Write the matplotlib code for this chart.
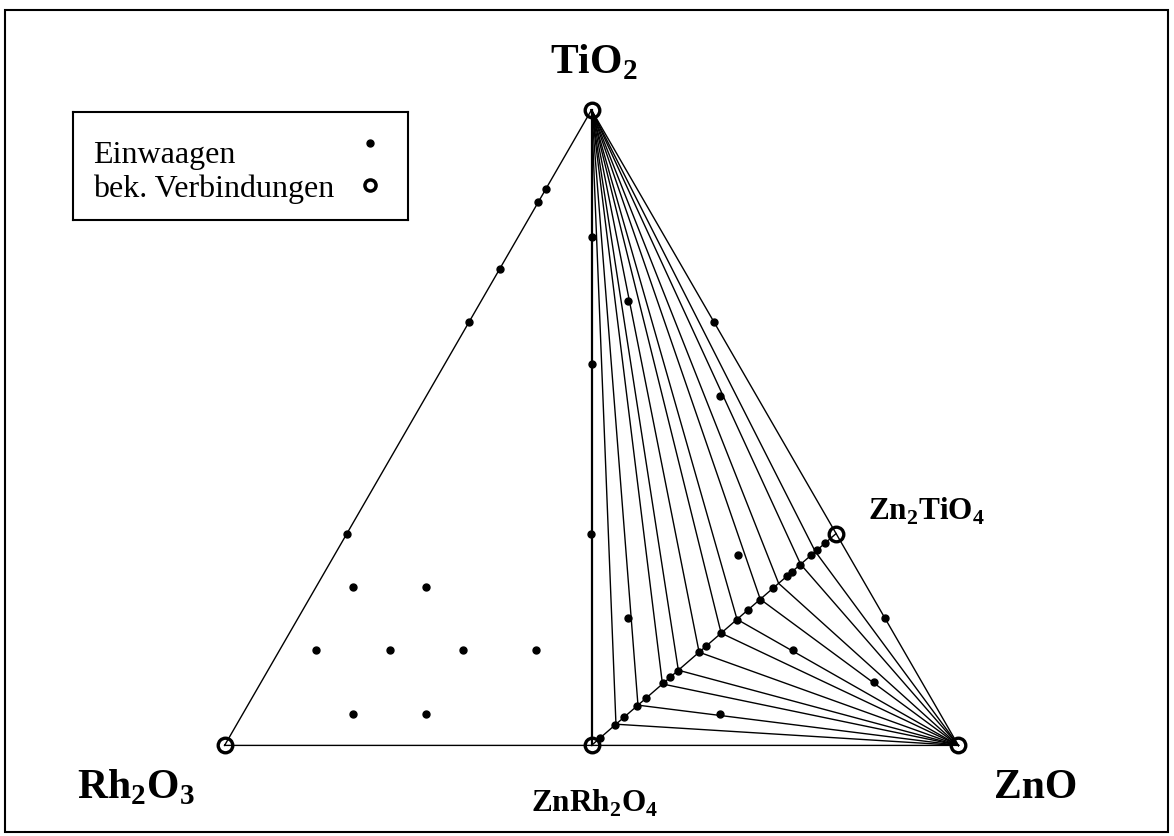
import numpy as np
import matplotlib
matplotlib.use('Agg')
import matplotlib.pyplot as plt
from matplotlib.patches import Rectangle

plt.rcParams['font.family'] = 'Liberation Serif'
plt.rcParams['mathtext.fontset'] = 'custom'
plt.rcParams['mathtext.rm'] = 'Liberation Serif'
plt.rcParams['mathtext.bf'] = 'Liberation Serif:bold'

# Einwaagen als Molenbrueche TiO2 / ZnO (Rest = Rh2O3)
einw_tio2 = [0.875, 0.855, 0.75, 0.667, 0.333,          # Rand Rh2O3-TiO2
             0.8, 0.6, 0.333,                           # Schnitt ZnRh2O4-TiO2
             0.25, 0.25, 0.15, 0.15, 0.15, 0.15, 0.05, 0.05,
             0.667, 0.7, 0.55, 0.3, 0.2, 0.2, 0.15, 0.1, 0.05]
einw_zno = [0.0, 0.0, 0.0, 0.0, 0.0,
            0.1, 0.2, 0.333,
            0.05, 0.15, 0.05, 0.15, 0.25, 0.35, 0.15, 0.25,
            0.333, 0.2, 0.4, 0.55, 0.45, 0.8, 0.7, 0.835, 0.65]

# Einwaagen auf dem Schnitt ZnRh2O4 - Zn2TiO4, x in Zn(1+x)Ti(x)Rh(2-2x)O4
schnitt_x = [0.036, 0.095, 0.133, 0.188, 0.223, 0.294, 0.322, 0.353, 0.439,
             0.469, 0.530, 0.593, 0.640, 0.688, 0.743, 0.798, 0.818, 0.853,
             0.897, 0.921, 0.956]

# Konoden: Endpunkte auf dem Schnitt (gehen nach TiO2 und nach ZnO)
konoden_x = [0.10, 0.19, 0.29, 0.355, 0.44, 0.53, 0.595, 0.69, 0.765, 0.855, 0.915]

# bekannte Verbindungen
verb_tio2 = [1.0, 0.0, 0.0, 0.0, 1 / 3]
verb_zno = [0.0, 0.0, 1.0, 0.5, 2 / 3]


def ternaer(tio2, zno):
    tio2 = np.asarray(tio2, dtype=float)
    zno = np.asarray(zno, dtype=float)
    return zno + tio2 / 2, tio2 * np.sqrt(3) / 2


def schnitt(x):
    x = np.asarray(x, dtype=float)
    return ternaer(x / 3, 0.5 + x / 6)


W, H = 1174, 836
fig = plt.figure(figsize=(W / 100, H / 100), dpi=100)
ax = fig.add_axes([0, 0, 1, 1])
x0, y0, L = 224.6, 745.4, 733.8   # Lage von Rh2O3 und Seitenlaenge in Pixel
ax.set_xlim(-x0 / L, (W - x0) / L)
ax.set_ylim(-(H - y0) / L, y0 / L)
ax.axis('off')

TiO2 = ternaer(1, 0)
Rh2O3 = ternaer(0, 0)
ZnO = ternaer(0, 1)
ZnRh2O4 = ternaer(0, 0.5)
Zn2TiO4 = ternaer(1 / 3, 2 / 3)

# Dreieck
ax.plot([Rh2O3[0], ZnO[0], TiO2[0], Rh2O3[0]],
        [Rh2O3[1], ZnO[1], TiO2[1], Rh2O3[1]], color='black', lw=1.0)
ax.plot([ZnRh2O4[0], TiO2[0]], [ZnRh2O4[1], TiO2[1]], color='black', lw=1.6)
ax.plot([ZnRh2O4[0], Zn2TiO4[0]], [ZnRh2O4[1], Zn2TiO4[1]], color='black', lw=1.0)

# Konoden
kx, ky = schnitt(konoden_x)
for px, py in zip(kx, ky):
    ax.plot([TiO2[0], px, ZnO[0]], [TiO2[1], py, ZnO[1]], color='black', lw=1.0)

# Einwaagen
ex, ey = ternaer(einw_tio2, einw_zno)
ax.plot(ex, ey, 'o', color='black', ms=5, ls='none')
sx, sy = schnitt(schnitt_x)
ax.plot(sx, sy, 'o', color='black', ms=5, ls='none')

# bekannte Verbindungen
vx, vy = ternaer(verb_tio2, verb_zno)
ax.plot(vx, vy, 'o', mfc='none', mec='black', mew=2.4, ms=10.5, ls='none')

# Beschriftung
fett = dict(fontweight='bold', color='black')
fig.text(594 / W, 1 - 73 / H, r'TiO$_\mathbf{2}$', fontsize=30, ha='center', va='baseline', **fett)
fig.text(136 / W, 1 - 798 / H, r'Rh$_\mathbf{2}$O$_\mathbf{3}$', fontsize=30, ha='center', va='baseline', **fett)
fig.text(1036 / W, 1 - 798 / H, 'ZnO', fontsize=30, ha='center', va='baseline', **fett)
fig.text(595 / W, 1 - 812 / H, r'ZnRh$_\mathbf{2}$O$_\mathbf{4}$', fontsize=22.5, ha='center', va='baseline', **fett)
fig.text(868 / W, 1 - 520 / H, r'Zn$_\mathbf{2}$TiO$_\mathbf{4}$', fontsize=22.5, ha='left', va='baseline', **fett)

# Legende
lg = fig.add_axes([73.3 / W, 1 - 220 / H, 335 / W, 108.3 / H])
lg.set_xlim(0, 1)
lg.set_ylim(0, 1)
lg.set_xticks([])
lg.set_yticks([])
for s in lg.spines.values():
    s.set_linewidth(1.5)
lg.text(0.06, 0.526, 'Einwaagen', fontsize=23, va='baseline')
lg.text(0.06, 0.212, 'bek. Verbindungen', fontsize=23, va='baseline')
lg.plot([0.886], [0.711], 'o', color='black', ms=5)
lg.plot([0.886], [0.323], 'o', mfc='white', mec='black', mew=2.5, ms=8)

# Rahmen
fig.patches.append(Rectangle((5 / W, 1 - 832 / H), 1163 / W, 822 / H,
                             transform=fig.transFigure, fill=False, lw=1.5, color='black'))

fig.savefig('out.png', dpi=100)
